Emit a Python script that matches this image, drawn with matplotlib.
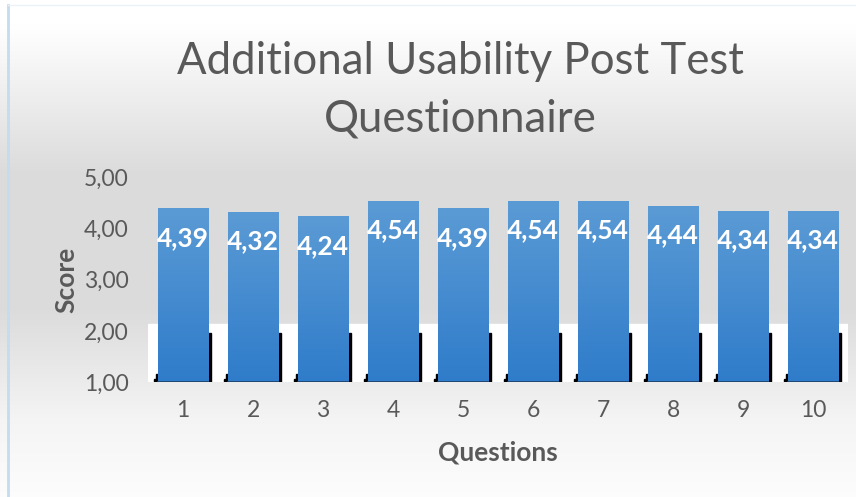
import numpy as np
import matplotlib.pyplot as plt
from matplotlib.patches import Rectangle
from matplotlib.lines import Line2D

questions = ['1', '2', '3', '4', '5', '6', '7', '8', '9', '10']
scores = [4.39, 4.32, 4.24, 4.54, 4.39, 4.54, 4.54, 4.44, 4.34, 4.34]
y_ticks = [1, 2, 3, 4, 5]

plt.rcParams['font.family'] = ['Lato', 'DejaVu Sans']
grey = '#595959'

fig = plt.figure(figsize=(8.56, 4.97), dpi=100)

# background gradient: white at top, grey in the middle, white at the bottom
bg = fig.add_axes([0, 0, 1, 1], zorder=-2)
yy = np.linspace(0, 1, 300)
shade = np.interp(yy, [0, 0.05, 0.35, 0.62, 0.85, 1.0], [1.0, 1.0, 0.86, 0.86, 0.96, 0.99])
img = np.repeat(shade[:, None], 2, axis=1)
bg.imshow(np.dstack([img, img, img]), aspect='auto', extent=[0, 1, 0, 1], origin='upper')
bg.set_xlim(0, 1)
bg.set_ylim(0, 1)
bg.axis('off')
fig.add_artist(Line2D([0.009, 0.009], [0, 0.99], color='#c5dbf0', lw=2))
fig.add_artist(Line2D([0.009, 1], [0.99, 0.99], color='#eaf1f9', lw=1))

ax = fig.add_axes([0.173, 0.231, 0.818, 0.413])
ax.set_facecolor('none')
x = np.arange(1, len(questions) + 1)
width = 0.72
ax.set_xlim(0.5, len(questions) + 0.5)
ax.set_ylim(1, 5)

# white band and bar shadows
ax.axhspan(1, 2.13, color='white', zorder=1)
for xi in x:
    ax.add_patch(Rectangle((xi + width / 2, 1), 0.04, 0.95, color='black', zorder=2))
    ax.add_patch(Rectangle((xi - width / 2 - 0.06, 1), 0.06, 0.06, color='black', zorder=2))
    ax.add_patch(Rectangle((xi - width / 2 - 0.03, 1), 0.03, 0.15, color='black', zorder=2))

bars = ax.bar(x, [s - 1 for s in scores], bottom=1, width=width, color='none', zorder=3)
grad = np.linspace(0, 1, 200)[:, None]
top_c = np.array([0x5b, 0x9b, 0xd5]) / 255
bot_c = np.array([0x2f, 0x7c, 0xca]) / 255
cols = top_c[None, None, :] * (1 - grad[:, :, None]) + bot_c[None, None, :] * grad[:, :, None]
for b, s in zip(bars, scores):
    x0, y0 = b.get_x(), b.get_y()
    im = ax.imshow(cols, aspect='auto', origin='upper',
                   extent=[x0, x0 + b.get_width(), y0, y0 + b.get_height()], zorder=3)
    im.set_clip_path(b)
    ax.plot([x0, x0 + b.get_width()], [1.005, 1.005], color='#1f3f66', lw=1.2, zorder=4)
    ax.text(b.get_x() + b.get_width() / 2, s - 0.58, f'{s:.2f}'.replace('.', ','),
            ha='center', va='center', color='white', fontsize=19, fontweight='bold', zorder=5)

ax.set_xticks(x)
ax.set_xticklabels(questions)
ax.set_yticks(y_ticks)
ax.set_yticklabels([f'{v:.2f}'.replace('.', ',') for v in y_ticks])
ax.tick_params(length=0, labelsize=16.5, labelcolor=grey, pad=13)
ax.tick_params(axis='y', pad=14)
for sp in ax.spines.values():
    sp.set_visible(False)

ax.set_xlabel('Questions', fontsize=19, fontweight='bold', color=grey, labelpad=14)
ax.set_ylabel('Score', fontsize=19, fontweight='bold', color=grey, labelpad=4)

fig.text(0.538, 0.877, 'Additional Usability Post Test', ha='center', va='center',
         fontsize=31.5, color=grey)
fig.text(0.538, 0.76, 'Questionnaire', ha='center', va='center', fontsize=31.5,
         color=grey)

fig.savefig('out.png', dpi=100)
